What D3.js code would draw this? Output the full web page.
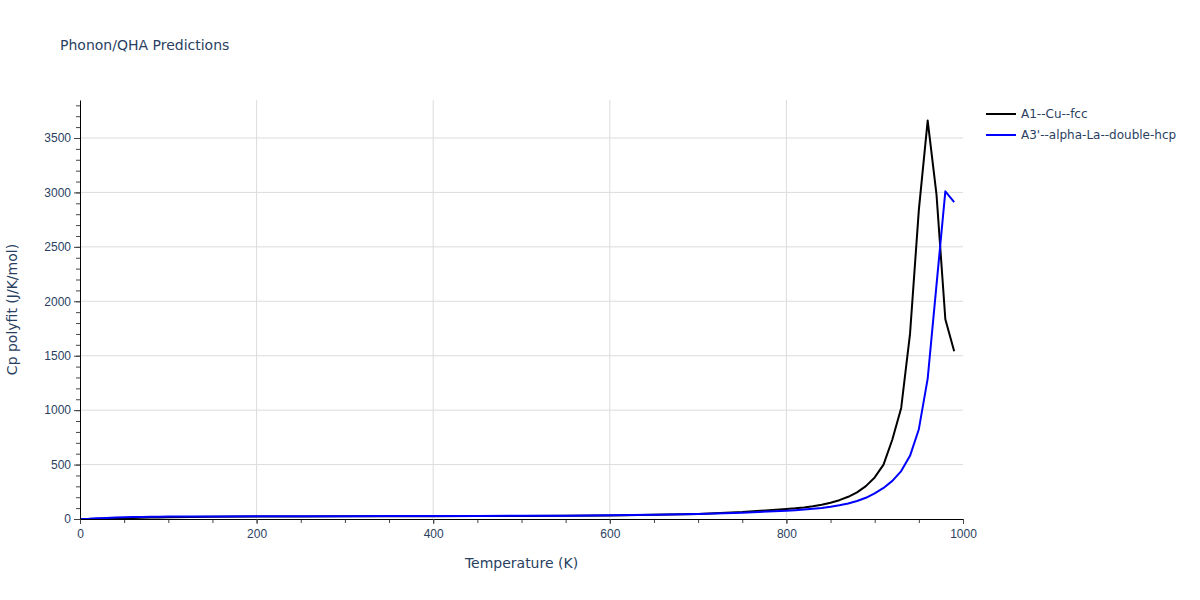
<!DOCTYPE html>
<html>
<head>
<meta charset="utf-8">
<script src="https://cdn.jsdelivr.net/npm/d3@7"></script>
<style>
  body { margin: 0; background: #fff; }
  svg { font-family: "DejaVu Sans", verdana, sans-serif; }
</style>
</head>
<body>
<svg id="chart" width="1200" height="600"></svg>
<script>
const temperatures = [0,10,20,30,40,50,60,70,80,90,100,125,150,200,250,300,350,400,450,500,550,600,650,700,750,800,810,820,830,840,850,860,870,880,890,900,910,920,930,940,950,960,970,980,990];
const cuFcc = [0,0.5,1.5,3,5,7,9,11,13,14.5,16,18.5,20.5,22.5,23.8,24.6,25.3,26,26.8,27.8,29.5,33,38,47,64,92,98,106,117,131,149,173,204,245,302,382,500,730,1020,1700,2840,3660,2980,1835,1540];
const laDhcp = [0,2,6,10,13.5,16,18,19.5,20.5,21.5,22,23.2,24,25,25.8,26.4,27,27.6,28.3,29.2,30.8,34,38,45,58,76,81,87,94,102,113,127,143,165,195,235,285,350,440,580,825,1290,2150,3010,2910];
const seriesNames = ["A1--Cu--fcc", "A3'--alpha-La--double-hcp"];
const seriesColors = ["#000000", "#0000ff"];
const xTicks = [0,200,400,600,800,1000];
const yTicks = [0,500,1000,1500,2000,2500,3000,3500];

const series = [cuFcc, laDhcp].map((vals, i) => ({
  name: seriesNames[i], color: seriesColors[i],
  points: temperatures.map((t, j) => ({t, v: vals[j]}))
}));

const svg = d3.select("#chart");
const L = 80, R = 963, T = 100, B = 519;
const textColor = "#2a3f5f";
const x = d3.scaleLinear().domain([0, 1000]).range([L, R]);
const y = d3.scaleLinear().domain([0, 3849]).range([B, T]);

// gridlines
svg.append("g").selectAll("line").data(xTicks.filter(d => d > 0 && d < 1000)).join("line")
  .attr("x1", d => x(d)).attr("x2", d => x(d)).attr("y1", T).attr("y2", B)
  .attr("stroke", "#dcdcdc").attr("stroke-width", 1);
svg.append("g").selectAll("line").data(yTicks.filter(d => d > 0)).join("line")
  .attr("x1", L).attr("x2", R).attr("y1", d => y(d)).attr("y2", d => y(d))
  .attr("stroke", "#dcdcdc").attr("stroke-width", 1);

// lines
const line = d3.line().x(d => x(d.t)).y(d => y(d.v));
svg.append("g").selectAll("path").data(series).join("path")
  .attr("d", d => line(d.points)).attr("fill", "none")
  .attr("stroke", d => d.color).attr("stroke-width", 2)
  .attr("stroke-linejoin", "round");

// x axis
const xMinor = d3.range(0, 1001, 50);
const gxm = svg.append("g").attr("transform", `translate(0,${B})`)
  .call(d3.axisBottom(x).tickValues(xMinor).tickSize(4).tickFormat(""));
gxm.select(".domain").remove();
gxm.selectAll("line").attr("stroke", "#444");
const gx = svg.append("g").attr("transform", `translate(0,${B})`)
  .call(d3.axisBottom(x).tickValues(xTicks).tickSize(5).tickSizeOuter(0).tickPadding(5).tickFormat(d3.format("d")));
gx.select(".domain").attr("stroke", "#000");
gx.selectAll(".tick line").attr("stroke", "#444");
gx.selectAll("text").attr("fill", textColor).style("font-size", "12px");

// y axis
const yMinor = d3.range(0, 3801, 100);
const gym = svg.append("g").attr("transform", `translate(${L},0)`)
  .call(d3.axisLeft(y).tickValues(yMinor).tickSize(4).tickFormat(""));
gym.select(".domain").remove();
gym.selectAll("line").attr("stroke", "#444");
const gy = svg.append("g").attr("transform", `translate(${L},0)`)
  .call(d3.axisLeft(y).tickValues(yTicks).tickSize(6).tickSizeOuter(0).tickPadding(3).tickFormat(d3.format("d")));
gy.select(".domain").attr("stroke", "#000");
gy.selectAll(".tick line").attr("stroke", "#444");
gy.selectAll("text").attr("fill", textColor).style("font-size", "12px");

// titles
svg.append("text").attr("x", 60).attr("y", 50).text("Phonon/QHA Predictions")
  .attr("fill", textColor).style("font-size", "14px");
svg.append("text").attr("x", (L + R) / 2).attr("y", 568).attr("text-anchor", "middle")
  .text("Temperature (K)").attr("fill", textColor).style("font-size", "14px");
svg.append("text").attr("transform", `translate(17,${(T + B) / 2}) rotate(-90)`)
  .attr("text-anchor", "middle").text("Cp polyfit (J/K/mol)")
  .attr("fill", textColor).style("font-size", "14px");

// legend
const lg = svg.append("g").selectAll("g").data(series).join("g")
  .attr("transform", (d, i) => `translate(986,${114 + i * 21})`);
lg.append("line").attr("x1", 0).attr("x2", 30).attr("y1", 0).attr("y2", 0)
  .attr("stroke", d => d.color).attr("stroke-width", 2);
lg.append("text").attr("x", 35).attr("y", 4).text(d => d.name)
  .attr("fill", textColor).style("font-size", "12px");
</script>
</body>
</html>
